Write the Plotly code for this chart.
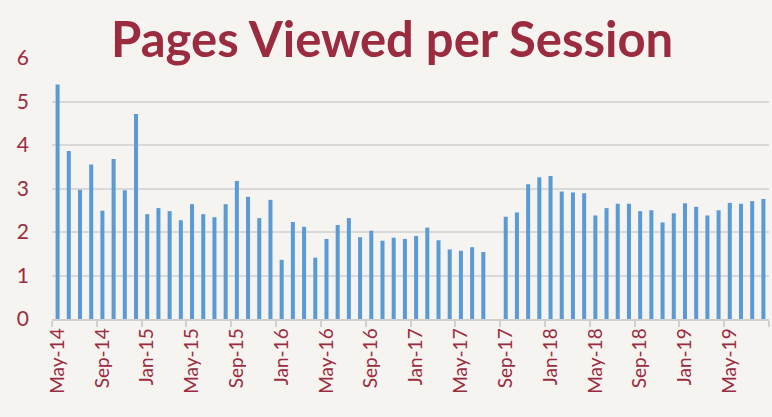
import plotly.graph_objects as go

months = ["May-14","Jun-14","Jul-14","Aug-14","Sep-14","Oct-14","Nov-14","Dec-14",
          "Jan-15","Feb-15","Mar-15","Apr-15","May-15","Jun-15","Jul-15","Aug-15",
          "Sep-15","Oct-15","Nov-15","Dec-15","Jan-16","Feb-16","Mar-16","Apr-16",
          "May-16","Jun-16","Jul-16","Aug-16","Sep-16","Oct-16","Nov-16","Dec-16",
          "Jan-17","Feb-17","Mar-17","Apr-17","May-17","Jun-17","Jul-17","Aug-17",
          "Sep-17","Oct-17","Nov-17","Dec-17","Jan-18","Feb-18","Mar-18","Apr-18",
          "May-18","Jun-18","Jul-18","Aug-18","Sep-18","Oct-18","Nov-18","Dec-18",
          "Jan-19","Feb-19","Mar-19","Apr-19","May-19","Jun-19","Jul-19","Aug-19"]

pages_per_session = [5.39, 3.86, 2.97, 3.55, 2.49, 3.68, 2.96, 4.71,
                     2.41, 2.55, 2.48, 2.27, 2.64, 2.41, 2.34, 2.64,
                     3.17, 2.81, 2.32, 2.74, 1.36, 2.23, 2.12, 1.41,
                     1.84, 2.16, 2.32, 1.88, 2.03, 1.80, 1.87, 1.84,
                     1.91, 2.10, 1.81, 1.60, 1.57, 1.65, 1.54, None,
                     2.35, 2.45, 3.10, 3.26, 3.29, 2.93, 2.91, 2.89,
                     2.38, 2.55, 2.65, 2.65, 2.48, 2.50, 2.22, 2.43,
                     2.66, 2.58, 2.38, 2.50, 2.67, 2.65, 2.71, 2.76]

title_text = "Pages Viewed per Session"
red = "#9b2c3f"
bg = "#f6f4f0"

fig = go.Figure()
fig.add_trace(go.Bar(x=months, y=pages_per_session, marker_color="#5b9bd5",
                     marker_line_width=0, width=0.36))

fig.update_layout(
    width=772, height=417,
    margin=dict(l=52, r=3, t=58, b=98),
    paper_bgcolor=bg,
    plot_bgcolor="rgba(0,0,0,0)",
    showlegend=False,
    title=dict(text="<b>" + title_text + "</b>", x=0.508, xanchor="center",
               y=0.905, yanchor="middle",
               font=dict(family="Lato", size=49, color=red)),
    xaxis=dict(type="category", tickmode="linear", tick0=0, dtick=4,
               tickson="boundaries", ticks="outside", ticklen=6,
               tickcolor="#d0d0d0", tickwidth=1.5, tickangle=-90,
               showline=True, linecolor="#d0d0d0", linewidth=1.5,
               showgrid=False, range=[-0.5, 63.5], automargin=False,
               tickfont=dict(family="Lato", size=19, color=red)),
    yaxis=dict(range=[0, 6], dtick=1, showgrid=True, gridcolor="#d9d9d9",
               gridwidth=1.5, zeroline=False, showline=False,
               ticks="", ticklabelstandoff=22, automargin=False,
               tickfont=dict(family="Lato", size=21, color=red)),
)

fig.write_html("out.html",
               config={"displayModeBar": False},
               post_script="document.body.style.margin='0';"
                           "document.body.style.background='" + bg + "';")
